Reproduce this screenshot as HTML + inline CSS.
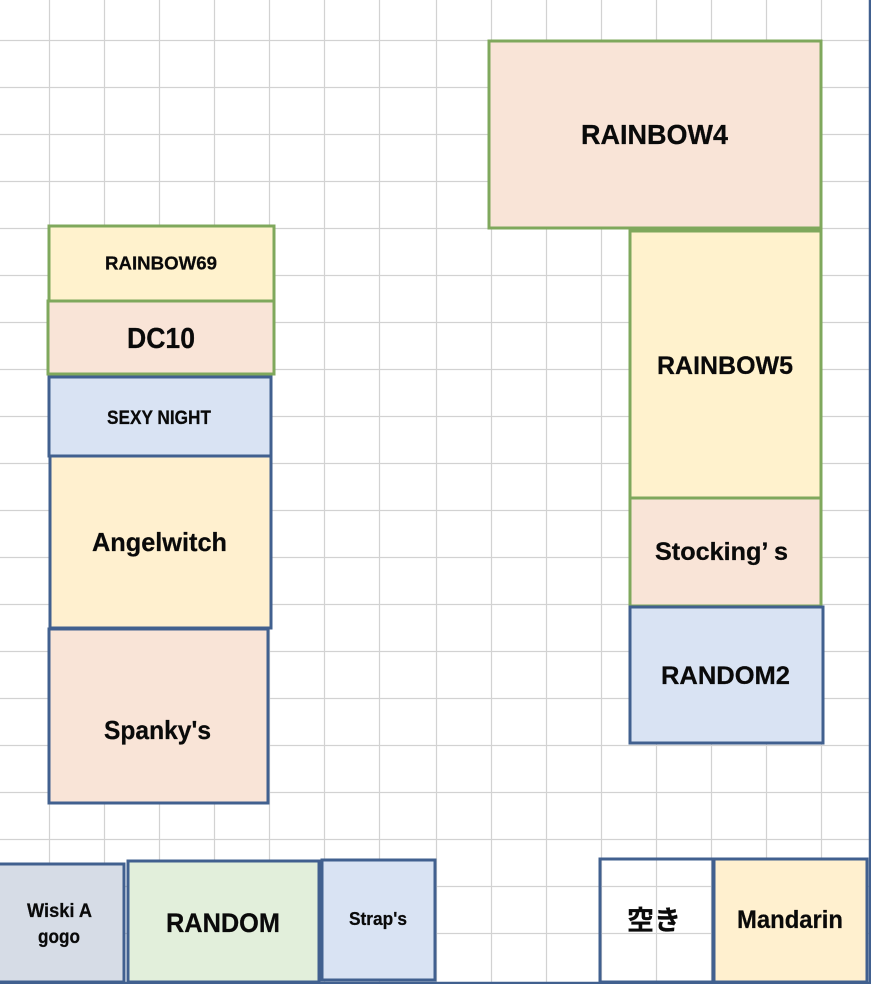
<!DOCTYPE html>
<html lang="ja">
<head>
<meta charset="utf-8">
<title>Floor map</title>
<style>
html,body{margin:0;padding:0;background:#fff;width:871px;height:984px;overflow:hidden}
svg{display:block}
text{font-family:"Liberation Sans","Noto Sans CJK JP",sans-serif;font-weight:700;fill:#0a0a0a;stroke:#0a0a0a;stroke-width:.25}
</style>
</head>
<body>
<svg width="871" height="984" viewBox="0 0 871 984" xmlns="http://www.w3.org/2000/svg">
<rect width="871" height="984" fill="#fff"/>
<g stroke="#d2d2d2" stroke-width="1.2" fill="none">
<path d="M49.5 0V984M104.5 0V984M159.5 0V984M214.5 0V984M269.5 0V984M324.5 0V984M379.5 0V984M436.5 0V984M491.5 0V984M546.5 0V984M601.5 0V984M656.5 0V984M711.5 0V984M766.5 0V984M821.5 0V984"/>
<path d="M0 40.5H871M0 87.5H871M0 134.5H871M0 181.5H871M0 228.5H871M0 275.5H871M0 322.5H871M0 369.5H871M0 416.5H871M0 463.5H871M0 510.5H871M0 557.5H871M0 604.5H871M0 651.5H871M0 698.5H871M0 745.5H871M0 792.5H871M0 839.5H871M0 886.5H871M0 933.5H871"/>
</g>
<path d="M870 0V984" stroke="#41608f" stroke-width="2.5"/>

<g stroke-width="3">
<rect x="489" y="41" width="332" height="187" fill="#f9e4d7" stroke="#7fa85c"/>
<rect x="630" y="231" width="191" height="267" fill="#fff2cd" stroke="#7fa85c"/>
<rect x="630" y="498" width="191" height="108" fill="#f9e4d7" stroke="#7fa85c"/>
<rect x="630" y="607" width="193" height="136" fill="#d9e3f3" stroke="#41608f"/>
<rect x="49" y="226" width="225" height="75" fill="#fff2cd" stroke="#7fa85c"/>
<rect x="48" y="301" width="226" height="73" fill="#f9e4d7" stroke="#7fa85c"/>
<rect x="49" y="377" width="222" height="79" fill="#d9e3f3" stroke="#41608f"/>
<rect x="50" y="456" width="221" height="172" fill="#fff0cf" stroke="#41608f"/>
<rect x="49" y="629" width="219" height="174" fill="#f9e4d7" stroke="#41608f"/>
<rect x="-6" y="864" width="130" height="118" fill="#d6dce6" stroke="#41608f"/>
<rect x="128" y="861" width="191" height="121" fill="#e2efdb" stroke="#41608f"/>
<rect x="322" y="860" width="113" height="120" fill="#d9e3f3" stroke="#41608f"/>
<rect x="600" y="859" width="113" height="123" fill="none" stroke="#41608f"/>
<rect x="714" y="859" width="153" height="123" fill="#fff0cf" stroke="#41608f"/>
</g>
<path d="M0 983H871" stroke="#41608f" stroke-width="2.5"/>

<text x="581" y="144" font-size="28" textLength="147" lengthAdjust="spacingAndGlyphs">RAINBOW4</text>
<text x="657" y="374" font-size="25" textLength="136" lengthAdjust="spacingAndGlyphs">RAINBOW5</text>
<text x="655" y="560" font-size="25" textLength="133" lengthAdjust="spacingAndGlyphs">Stocking’ s</text>
<text x="661" y="684" font-size="25" textLength="129" lengthAdjust="spacingAndGlyphs">RANDOM2</text>
<text x="105" y="269.5" font-size="18" textLength="112" lengthAdjust="spacingAndGlyphs">RAINBOW69</text>
<text x="127" y="348" font-size="29" textLength="68" lengthAdjust="spacingAndGlyphs">DC10</text>
<text x="107" y="424" font-size="19" textLength="104" lengthAdjust="spacingAndGlyphs">SEXY NIGHT</text>
<text x="92" y="551" font-size="26" textLength="135" lengthAdjust="spacingAndGlyphs">Angelwitch</text>
<text x="104" y="739" font-size="26" textLength="107" lengthAdjust="spacingAndGlyphs">Spanky's</text>
<text x="27" y="917" font-size="19" textLength="65" lengthAdjust="spacingAndGlyphs">Wiski A</text>
<text x="38" y="943" font-size="19" textLength="42" lengthAdjust="spacingAndGlyphs">gogo</text>
<text x="166" y="932" font-size="27" textLength="114" lengthAdjust="spacingAndGlyphs">RANDOM</text>
<text x="349" y="925" font-size="18" textLength="58" lengthAdjust="spacingAndGlyphs">Strap's</text>
<text x="627" y="930" font-size="27" textLength="54" lengthAdjust="spacingAndGlyphs" font-weight="500">空き</text>
<text x="737" y="928" font-size="25" textLength="106" lengthAdjust="spacingAndGlyphs">Mandarin</text>
</svg>
</body>
</html>
